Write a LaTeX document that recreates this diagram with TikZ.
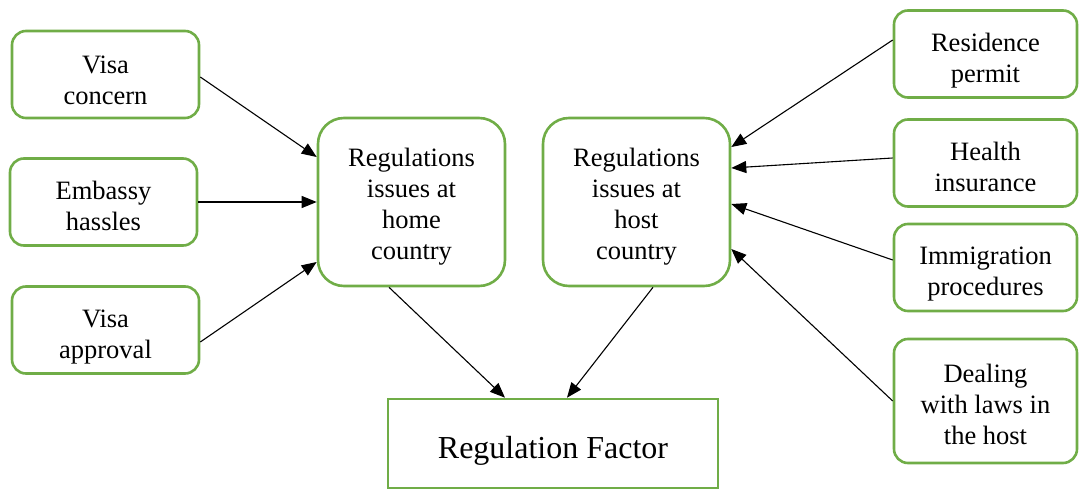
\documentclass[tikz,border=0pt]{standalone}
\usepackage{fontspec}
\setmainfont{Liberation Serif}
\newfontfamily\tms{Liberation Serif}
\usetikzlibrary{calc,arrows.meta}
\definecolor{boxgreen}{RGB}{112,173,71}
\newcommand{\tx}[2][-12.6pt]{\raisebox{#1}[0pt][0pt]{\begin{tabular}{@{}c@{}}#2\end{tabular}}}
\tikzset{
  sbox/.style={draw=boxgreen, line width=2.6pt, rounded corners=14pt,
    minimum width=187pt, minimum height=87pt, inner sep=0pt,
    font=\tms\fontsize{26.5}{31}\selectfont},
  bbox/.style={sbox, rounded corners=26pt, minimum height=168pt},
  fbox/.style={draw=boxgreen, line width=2.6pt, minimum width=330pt, minimum height=89pt,
    inner sep=0pt, font=\tms\fontsize{32}{36}\selectfont},
  arr/.style={line width=1.1pt, -{Triangle[length=15pt,width=12pt]}}
}
\begin{document}
\begin{tikzpicture}[x=1pt,y=-1pt]
\useasboundingbox (0,0) rectangle (1079,489);
\node[sbox] (vc) at (105.5,74.5) {\tx[-14.6pt]{Visa\\concern}};
\node[sbox] (eh) at (103.5,202) {\tx{Embassy\\hassles}};
\node[sbox] (va) at (105.5,330) {\tx{Visa\\approval}};
\node[bbox] (home) at (411.5,202) {\tx[-11.1pt]{Regulations\\issues at\\home\\country}};
\node[bbox] (host) at (636.5,202) {\tx[-11.1pt]{Regulations\\issues at\\host\\country}};
\node[fbox] (rf) at (553,443.5) {\tx[-14pt]{Regulation Factor}};
\node[sbox, minimum width=183pt] (rp) at (985.5,54) {\tx{Residence\\permit}};
\node[sbox, minimum width=183pt] (hi) at (985.5,163) {\tx{Health\\insurance}};
\node[sbox, minimum width=183pt] (ip) at (985.5,267.5) {\tx{Immigration\\procedures}};
\node[sbox, minimum width=183pt, minimum height=124pt] (dl) at (985.5,401) {\tx{Dealing\\with laws in\\the host}};
\draw[arr] ($(vc.east)+(0,2.5)$) -- ($(home.west)+(0,-45)$);
\draw[arr] (eh.east) -- (home.west);
\draw[arr] ($(va.east)+(0,12)$) -- ($(home.west)+(0,60)$);
\draw[arr] ($(home.south)+(-22.5,0)$) -- ($(rf.north)+(-48,0)$);
\draw[arr] ($(host.south)+(16.5,0)$) -- ($(rf.north)+(14,0)$);
\draw[arr] ($(rp.west)+(0,-14)$) -- ($(host.east)+(0,-55)$);
\draw[arr] ($(hi.west)+(0,-5)$) -- ($(host.east)+(0,-34)$);
\draw[arr] ($(ip.west)+(0,-7.5)$) -- ($(host.east)+(0,2)$);
\draw[arr] (dl.west) -- ($(host.east)+(0,47)$);
\end{tikzpicture}
\end{document}
